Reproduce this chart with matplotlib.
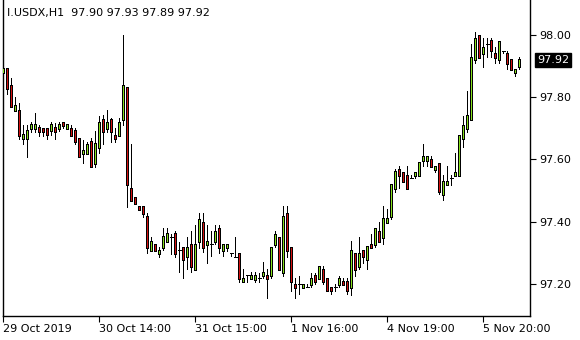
import matplotlib
matplotlib.use("Agg")
import matplotlib.pyplot as plt
import matplotlib.transforms as mtransforms
import numpy as np

# hourly OHLC, I.USDX H1
opens = [97.878, 97.891, 97.839, 97.758, 97.758, 97.667, 97.667, 97.699, 97.699, 97.702,
         97.700, 97.700, 97.692, 97.702, 97.700, 97.719, 97.700, 97.700, 97.692, 97.668,
         97.619, 97.619, 97.659, 97.588, 97.638, 97.729, 97.700, 97.729, 97.678, 97.678,
         97.728, 97.830, 97.507, 97.478, 97.450, 97.450, 97.417, 97.308, 97.327, 97.297,
         97.317, 97.336, 97.351, 97.361, 97.309, 97.318, 97.288, 97.328, 97.247, 97.336,
         97.398, 97.327, 97.328, 97.338, 97.379, 97.307, 97.317, 97.299, 97.288, 97.299,
         97.207, 97.228, 97.218, 97.215, 97.218, 97.227, 97.227, 97.227, 97.327, 97.350,
         97.238, 97.427, 97.318, 97.199, 97.199, 97.189, 97.189, 97.199, 97.227, 97.218,
         97.247, 97.218, 97.189, 97.189, 97.199, 97.207, 97.207, 97.189, 97.299, 97.256,
         97.309, 97.279, 97.328, 97.328, 97.370, 97.350, 97.398, 97.418, 97.507, 97.568,
         97.559, 97.550, 97.540, 97.548, 97.548, 97.598, 97.598, 97.601, 97.568, 97.588,
         97.488, 97.520, 97.540, 97.549, 97.549, 97.667, 97.700, 97.729, 97.920, 97.999,
         97.941, 97.970, 97.981, 97.941, 97.920, 97.950, 97.941, 97.920, 97.880, 97.900]
highs = [97.930, 97.891, 97.861, 97.800, 97.781, 97.711, 97.711, 97.720, 97.748, 97.711,
         97.700, 97.700, 97.721, 97.716, 97.721, 97.719, 97.711, 97.711, 97.700, 97.668,
         97.661, 97.657, 97.670, 97.692, 97.741, 97.743, 97.759, 97.732, 97.702, 97.732,
         98.000, 97.830, 97.650, 97.478, 97.450, 97.450, 97.429, 97.352, 97.327, 97.320,
         97.379, 97.379, 97.360, 97.371, 97.335, 97.318, 97.352, 97.371, 97.390, 97.427,
         97.427, 97.390, 97.371, 97.390, 97.390, 97.327, 97.327, 97.300, 97.352, 97.299,
         97.247, 97.228, 97.238, 97.238, 97.236, 97.270, 97.248, 97.318, 97.371, 97.350,
         97.451, 97.451, 97.318, 97.218, 97.227, 97.199, 97.199, 97.236, 97.236, 97.257,
         97.257, 97.218, 97.189, 97.199, 97.227, 97.218, 97.218, 97.338, 97.299, 97.352,
         97.309, 97.320, 97.361, 97.379, 97.399, 97.451, 97.440, 97.521, 97.569, 97.579,
         97.559, 97.579, 97.550, 97.559, 97.589, 97.650, 97.609, 97.611, 97.578, 97.588,
         97.550, 97.579, 97.550, 97.621, 97.678, 97.740, 97.821, 97.971, 98.011, 97.999,
         97.989, 97.989, 97.989, 97.960, 97.980, 97.950, 97.950, 97.920, 97.890, 97.930]
lows = [97.868, 97.809, 97.770, 97.758, 97.667, 97.651, 97.609, 97.689, 97.689, 97.676,
        97.676, 97.667, 97.679, 97.667, 97.692, 97.700, 97.700, 97.678, 97.649, 97.610,
        97.588, 97.619, 97.577, 97.577, 97.620, 97.649, 97.689, 97.657, 97.657, 97.678,
        97.711, 97.448, 97.469, 97.459, 97.440, 97.416, 97.299, 97.308, 97.308, 97.288,
        97.308, 97.336, 97.297, 97.288, 97.237, 97.218, 97.247, 97.240, 97.247, 97.315,
        97.304, 97.268, 97.290, 97.328, 97.299, 97.290, 97.307, 97.290, 97.288, 97.207,
        97.207, 97.207, 97.218, 97.207, 97.207, 97.218, 97.156, 97.218, 97.318, 97.247,
        97.227, 97.288, 97.178, 97.156, 97.167, 97.189, 97.189, 97.189, 97.199, 97.218,
        97.199, 97.178, 97.167, 97.178, 97.189, 97.199, 97.167, 97.165, 97.227, 97.247,
        97.266, 97.247, 97.318, 97.318, 97.338, 97.328, 97.398, 97.409, 97.496, 97.507,
        97.529, 97.507, 97.540, 97.540, 97.548, 97.579, 97.579, 97.578, 97.559, 97.488,
        97.470, 97.520, 97.519, 97.549, 97.549, 97.639, 97.689, 97.729, 97.909, 97.928,
        97.898, 97.928, 97.928, 97.909, 97.909, 97.941, 97.891, 97.890, 97.869, 97.890]
closes = [97.891, 97.829, 97.770, 97.772, 97.678, 97.679, 97.692, 97.711, 97.711, 97.691,
          97.691, 97.679, 97.711, 97.689, 97.711, 97.710, 97.711, 97.678, 97.657, 97.610,
          97.630, 97.649, 97.577, 97.650, 97.719, 97.689, 97.719, 97.689, 97.668, 97.719,
          97.839, 97.520, 97.469, 97.459, 97.440, 97.426, 97.317, 97.338, 97.308, 97.308,
          97.351, 97.361, 97.351, 97.299, 97.309, 97.279, 97.318, 97.256, 97.328, 97.408,
          97.318, 97.338, 97.328, 97.369, 97.318, 97.327, 97.327, 97.299, 97.288, 97.218,
          97.218, 97.228, 97.228, 97.228, 97.218, 97.236, 97.217, 97.318, 97.360, 97.247,
          97.418, 97.308, 97.207, 97.189, 97.199, 97.199, 97.189, 97.218, 97.207, 97.257,
          97.207, 97.178, 97.178, 97.189, 97.218, 97.199, 97.178, 97.309, 97.247, 97.299,
          97.288, 97.320, 97.318, 97.379, 97.338, 97.409, 97.409, 97.521, 97.561, 97.548,
          97.529, 97.507, 97.540, 97.559, 97.589, 97.609, 97.609, 97.578, 97.578, 97.496,
          97.529, 97.529, 97.540, 97.559, 97.678, 97.710, 97.740, 97.928, 97.989, 97.928,
          97.960, 97.970, 97.950, 97.928, 97.980, 97.950, 97.909, 97.890, 97.890, 97.920]

tick_labels = ["29 Oct 2019", "30 Oct 14:00", "31 Oct 15:00", "1 Nov 16:00", "4 Nov 19:00", "5 Nov 20:00"]
price_ticks = [97.20, 97.40, 97.60, 97.80, 98.00]
title = "I.USDX,H1  97.90 97.93 97.89 97.92"
last_price = closes[-1]

bull_color = "#86E01C"
bear_color = "#D41010"

plt.rcParams['font.family'] = ['DejaVu Sans']

fig = plt.figure(figsize=(5.8, 3.4), dpi=100)
ax = fig.add_axes([3 / 580, 24 / 340, 527 / 580, 316 / 340])

ymin, ymax = 97.0971, 98.1124
ax.set_xlim(-0.075, 131.675)
ax.set_ylim(ymin, ymax)

o = np.array(opens)
h = np.array(highs)
l = np.array(lows)
c = np.array(closes)
idx = np.arange(len(o))
px = 0.72                      # one pixel in points
dy = (ymax - ymin) / 316       # one pixel in price units

# wicks
ax.vlines(idx, l, h, color="black", linewidth=px, zorder=2, antialiased=False)

# bodies: 3 px black block with a 1 px coloured core
top = np.maximum(o, c)
bot = np.minimum(o, c)
body = c != o
ax.vlines(idx[body], bot[body] - 0.5 * dy, top[body] + 0.5 * dy, color="black",
          linewidth=3 * px, zorder=3, antialiased=False)
core = (top - bot) > 1.5 * dy
up = core & (c > o)
down = core & (c < o)
ax.vlines(idx[up], bot[up] + 0.5 * dy, top[up] - 0.5 * dy, color=bull_color,
          linewidth=px, zorder=4, antialiased=False)
ax.vlines(idx[down], bot[down] + 0.5 * dy, top[down] - 0.5 * dy, color=bear_color,
          linewidth=px, zorder=4, antialiased=False)

# dojis
flat = c == o
ax.hlines(o[flat], idx[flat] - 0.375, idx[flat] + 0.375, color="black",
          linewidth=px, zorder=3, antialiased=False)

# spines
ax.spines["top"].set_visible(False)
for s in ["left", "right", "bottom"]:
    ax.spines[s].set_linewidth(1.0)
    ax.spines[s].set_color("black")

# x ticks every 24 bars
ax.set_xticks(np.arange(len(tick_labels)) * 24)
ax.set_xticklabels(tick_labels, ha="left", fontsize=8)
ax.tick_params(axis="x", direction="out", length=4, width=0.8, pad=2)

# price axis on the right
ax.yaxis.tick_right()
ax.set_yticks(price_ticks)
ax.set_yticklabels([f"{v:.2f}" for v in price_ticks], fontsize=8)
ax.tick_params(axis="y", direction="out", length=4, width=0.8, pad=3)

# title text inside chart
ax.text(4 / 527, 1 - 13 / 316, title, transform=ax.transAxes, fontsize=8,
        va="center", ha="left", color="black")

# current price marker
trans = mtransforms.blended_transform_factory(ax.transAxes, ax.transData)
ax.text(1.0 + 7 / 527, last_price, f"{last_price:.2f}", transform=trans,
        fontsize=8, color="white", va="center", ha="left",
        bbox=dict(boxstyle="square,pad=0.2", facecolor="black", edgecolor="black"))

fig.savefig("out.png", dpi=100)
